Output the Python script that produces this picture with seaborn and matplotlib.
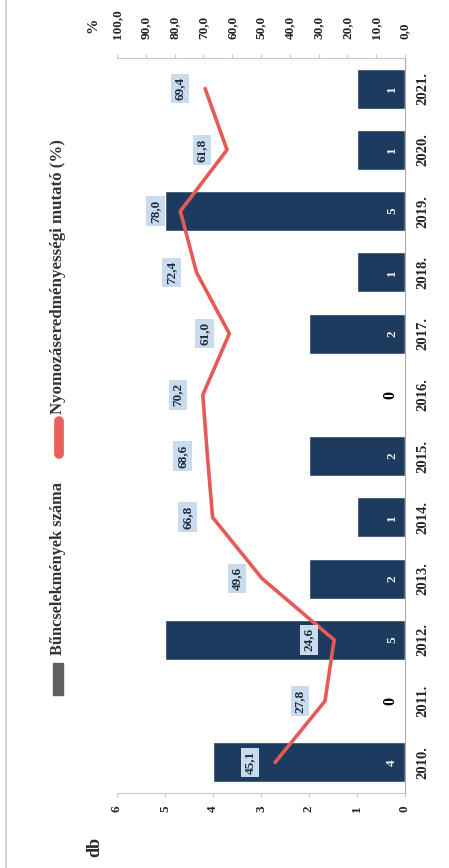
import matplotlib.pyplot as plt
import pandas as pd
import seaborn as sns
from matplotlib.lines import Line2D
from matplotlib.patches import Rectangle

years = ["2010.", "2011.", "2012.", "2013.", "2014.", "2015.",
         "2016.", "2017.", "2018.", "2019.", "2020.", "2021."]
cases = [4, 0, 5, 2, 1, 2, 0, 2, 1, 5, 1, 1]
rate = [45.1, 27.8, 24.6, 49.6, 66.8, 68.6, 70.2, 61.0, 72.4, 78.0, 61.8, 69.4]
db_ticks = [0, 1, 2, 3, 4, 5, 6]
pct_ticks = [0, 10, 20, 30, 40, 50, 60, 70, 80, 90, 100]

bar_label = "Bűncselekmények száma"
line_label = "Nyomozáseredményességi mutató (%)"

sns.set_style("white")
plt.rcParams["font.family"] = ["Liberation Serif", "DejaVu Serif"]

bar_color = "#1d3b5e"
line_color = "#e65a55"
box_color = "#c9dcee"
W, H = 449, 868

fig = plt.figure(figsize=(W / 100, H / 100), dpi=100)
ax = fig.add_axes([117 / W, 75 / H, 288 / W, 735 / H])

df = pd.DataFrame({"year": years, "cases": cases})
sns.barplot(data=df, x="cases", y="year", orient="h", color=bar_color,
            saturation=1, width=0.65, ax=ax)
ax.set_ylim(-0.5, 11.5)
ax.set_xlim(6, 0)
ax.set_xlabel("")
ax.set_ylabel("")

# years on the right (original x axis)
ax.yaxis.tick_right()
ax.set_yticks(range(len(years)))
ax.set_yticklabels(years, rotation=90, va="center", fontweight="bold", fontsize=10.5)
ax.tick_params(axis="y", length=0, pad=8)

ax.set_xticks(db_ticks)
ax.set_xticklabels([str(t) for t in db_ticks], rotation=90, fontweight="bold", fontsize=9.5)
ax.tick_params(axis="x", length=3, color="#c8c8c8", pad=6)

for s in ["left", "top"]:
    ax.spines[s].set_visible(False)
ax.spines["bottom"].set_color("#c8c8c8")
ax.spines["right"].set_color("#a6a6a6")

for i, v in enumerate(cases):
    if v > 0:
        ax.text(0.27, i, str(v), rotation=90, ha="center", va="center",
                color="#f2f2f2", fontsize=9.5, fontweight="bold")
    else:
        ax.text(0.3, i, "0", rotation=90, ha="center", va="center",
                color="black", fontsize=11.5, fontweight="bold")

# percentage series on secondary axis
ax2 = ax.twiny()
sns.lineplot(x=rate, y=list(range(len(rate))), orient="y", sort=False,
             color=line_color, lw=2.6, ax=ax2)
ax2.set_xlim(100, 0)
ax2.set_ylim(-0.5, 11.5)
ax2.set_xticks(pct_ticks)
ax2.set_xticklabels([f"{t:.1f}".replace(".", ",") for t in pct_ticks],
                    rotation=90, fontweight="bold", fontsize=9.5)
ax2.tick_params(axis="x", length=3, color="#c8c8c8", pad=11)
ax2.set_xlabel("")
for s in ["left", "right", "bottom"]:
    ax2.spines[s].set_visible(False)
ax2.spines["top"].set_color("#c8c8c8")

for i, v in enumerate(rate):
    ax2.annotate(f"{v:.1f}".replace(".", ","), xy=(v, i), xytext=(-18, 0),
                 textcoords="offset points", rotation=90, ha="center", va="center",
                 fontsize=9.5, fontweight="bold", color="#1e2d3d",
                 bbox=dict(boxstyle="square,pad=0.25", fc=box_color, ec="none"))

# axis titles
fig.text(93 / W, 1 - 25 / H, "%", rotation=90, ha="center", va="center",
         fontsize=11, fontweight="bold")
fig.text(95 / W, 1 - 847 / H, "db", rotation=90, ha="center", va="center",
         fontsize=13, fontweight="bold")

# legend (rotated)
fig.add_artist(Rectangle((53 / W, 1 - 695 / H), 10 / W, 32 / H,
                         color="#5f5f5f", transform=fig.transFigure))
fig.text(58 / W, 1 - 655 / H, bar_label, rotation=90, ha="center", va="bottom",
         fontsize=11.8, fontweight="bold", color="#333333")
fig.add_artist(Line2D([59 / W, 59 / W], [1 - 454 / H, 1 - 421 / H], color="#e8605c",
                      lw=7, solid_capstyle="round", transform=fig.transFigure))
fig.text(58 / W, 1 - 414 / H, line_label, rotation=90, ha="center", va="bottom",
         fontsize=12.2, fontweight="bold", color="#333333")

# scanned page edge
fig.add_artist(Line2D([6 / W, 6 / W], [0, 1], color="#d6d6d6", lw=1.5,
                      transform=fig.transFigure))

fig.savefig("out.png", dpi=100)
